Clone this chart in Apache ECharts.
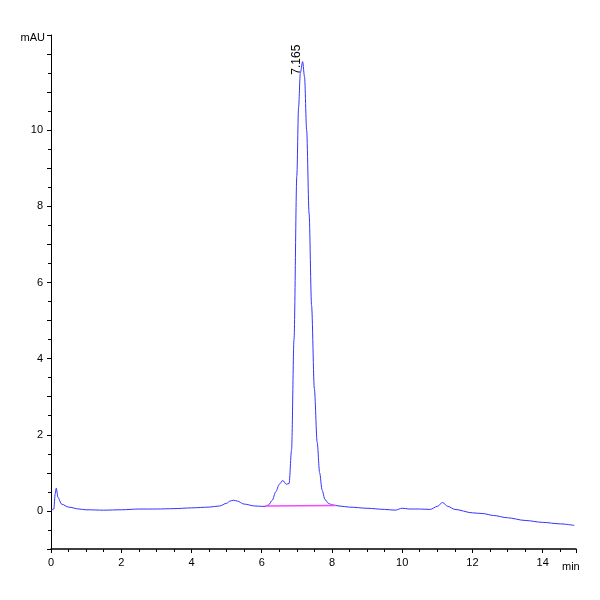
<!DOCTYPE html><html><head><meta charset="utf-8"><script src="https://cdn.jsdelivr.net/npm/echarts@6/dist/echarts.min.js"></script></head><body style="margin:0"><div id="c" style="width:600px;height:600px"></div><script>
const times=[0,0.08,0.12,0.15,0.2,0.3,0.5,0.8,1,1.5,2,2.5,3,3.5,4,4.5,4.8,5,5.1,5.2,5.3,5.5,5.8,6,6.1,6.2,6.3,6.4,6.5,6.6,6.7,6.78,6.85,6.92,7,7.05,7.1,7.165,7.22,7.28,7.35,7.42,7.5,7.58,7.65,7.72,7.8,7.9,8,8.2,8.5,9,9.5,9.8,10,10.2,10.5,10.8,11,11.15,11.3,11.5,12,12.3,12.6,13,13.5,14,14.5,14.9];
const signal=[0.02,0.05,0.45,0.6,0.35,0.18,0.1,0.05,0.03,0.02,0.03,0.05,0.05,0.06,0.08,0.1,0.13,0.2,0.26,0.28,0.26,0.18,0.13,0.12,0.12,0.16,0.28,0.5,0.7,0.8,0.7,0.72,1.6,4.5,8.8,10.6,11.5,11.8,11.4,10,7.8,5.4,3.2,1.8,1.0,0.55,0.3,0.2,0.16,0.13,0.1,0.07,0.04,0.02,0.07,0.05,0.05,0.04,0.12,0.22,0.12,0.04,-0.05,-0.07,-0.12,-0.18,-0.25,-0.3,-0.34,-0.38];
const baseline=[[6.1,0.13],[8.1,0.14]];
const yTicks=[0,2,4,6,8,10];
const xTicks=[0,2,4,6,8,10,12,14];
const peakLabel='7.165';
const font='Liberation Sans';
echarts.init(document.getElementById('c')).setOption({
animation:false,
grid:{left:51,right:24,top:35,bottom:51},
xAxis:{type:'value',min:0,max:14.95,interval:2,
 axisLine:{onZero:false,lineStyle:{color:'#000',width:1.5}},axisTick:{show:true,length:4,lineStyle:{color:'#000'}},
 minorTick:{show:true,splitNumber:4,length:3,lineStyle:{color:'#000'}},splitLine:{show:false},
 axisLabel:{color:'#000',fontFamily:font,fontSize:11,showMaxLabel:false,formatter:v=>xTicks.includes(v)?String(v):''},
 name:'min',nameLocation:'end',nameGap:-14,nameTextStyle:{color:'#000',fontFamily:font,fontSize:11,verticalAlign:'top',padding:[12,0,0,0]}},
yAxis:{type:'value',min:-1,max:12.5,interval:1,
 axisLine:{show:true,lineStyle:{color:'#000',width:1}},axisTick:{show:true,length:4,inside:false,lineStyle:{color:'#000'}},
 minorTick:{show:true,splitNumber:2,length:3,lineStyle:{color:'#000'}},splitLine:{show:false},
 axisLabel:{color:'#000',fontFamily:font,fontSize:11,formatter:v=>yTicks.includes(v)?String(v):''},
 name:'mAU',nameLocation:'end',nameGap:-8,nameTextStyle:{color:'#000',fontFamily:font,fontSize:11,align:'right',padding:[0,6,0,0]}},
series:[
{type:'line',data:times.map((t,i)=>[t,signal[i]]),smooth:0.3,smoothMonotone:'x',showSymbol:false,lineStyle:{color:'#3333ff',width:1},
 markPoint:{symbol:'circle',symbolSize:0,data:[{coord:[7.165,11.8],value:peakLabel}],label:{show:true,formatter:peakLabel,rotate:90,position:'top',distance:2,color:'#000',fontFamily:font,fontSize:12}}},
{type:'line',data:baseline,showSymbol:false,lineStyle:{color:'#ff44ff',width:1.5}}
]});
</script></body></html>
